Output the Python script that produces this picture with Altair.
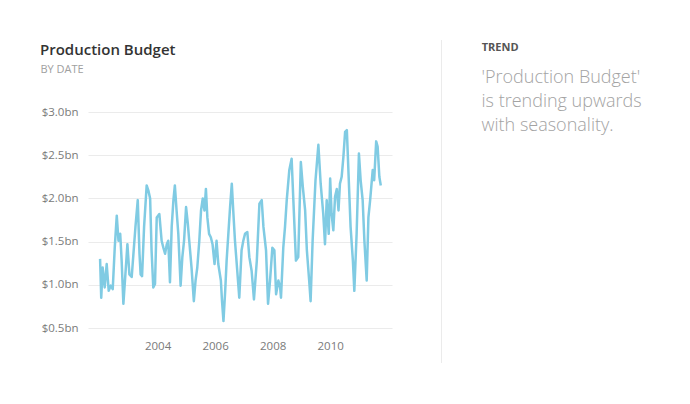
import altair as alt
import pandas as pd

# ---- data ----
years = [
    2002.00, 2002.04, 2002.09, 2002.16, 2002.23, 2002.30, 2002.37, 2002.44, 2002.51, 2002.58,
    2002.64, 2002.70, 2002.75, 2002.81, 2002.88, 2002.95, 2003.02, 2003.10, 2003.16, 2003.23,
    2003.31, 2003.37, 2003.41, 2003.46, 2003.53, 2003.62, 2003.68, 2003.74, 2003.79, 2003.85,
    2003.91, 2003.97, 2004.06, 2004.14, 2004.20, 2004.26, 2004.32, 2004.37, 2004.43, 2004.49,
    2004.55, 2004.60, 2004.66, 2004.72, 2004.80, 2004.86, 2004.92, 2004.99, 2005.05, 2005.10,
    2005.18, 2005.26, 2005.32, 2005.38, 2005.45, 2005.51, 2005.57, 2005.63, 2005.68, 2005.73,
    2005.79, 2005.85, 2005.91, 2005.98, 2006.05, 2006.11, 2006.20, 2006.24, 2006.29, 2006.35,
    2006.40, 2006.46, 2006.52, 2006.58, 2006.63, 2006.69, 2006.77, 2006.84, 2006.92, 2006.98,
    2007.04, 2007.12, 2007.19, 2007.27, 2007.35, 2007.45, 2007.54, 2007.62, 2007.68, 2007.77,
    2007.84, 2007.91, 2007.99, 2008.06, 2008.12, 2008.20, 2008.26, 2008.29, 2008.37, 2008.43,
    2008.49, 2008.58, 2008.66, 2008.72, 2008.77, 2008.81, 2008.89, 2008.98, 2009.05, 2009.13,
    2009.19, 2009.27, 2009.32, 2009.39, 2009.49, 2009.59, 2009.67, 2009.76, 2009.82, 2009.88,
    2009.95, 2010.00, 2010.05, 2010.11, 2010.17, 2010.23, 2010.29, 2010.34, 2010.40, 2010.46,
    2010.52, 2010.58, 2010.63, 2010.71, 2010.79, 2010.84, 2010.92, 2011.00, 2011.06, 2011.13,
    2011.19, 2011.27, 2011.33, 2011.39, 2011.48, 2011.53, 2011.60, 2011.65, 2011.71, 2011.76,
]
budget_bn = [
    1.30, 0.85, 1.20, 0.97, 1.24, 0.93, 0.99, 0.95, 1.43, 1.80,
    1.51, 1.59, 1.28, 0.78, 1.12, 1.47, 1.12, 1.09, 1.36, 1.67,
    1.98, 1.36, 1.12, 1.10, 1.67, 2.15, 2.09, 2.00, 1.40, 0.97,
    1.01, 1.78, 1.82, 1.51, 1.43, 1.36, 1.47, 1.51, 1.03, 1.67,
    1.98, 2.15, 1.86, 1.59, 0.99, 1.32, 1.51, 1.90, 1.71, 1.51,
    1.20, 0.81, 1.05, 1.20, 1.51, 1.86, 2.00, 1.86, 2.11, 1.78,
    1.59, 1.55, 1.47, 1.24, 1.51, 1.24, 1.05, 0.81, 0.58, 0.93,
    1.28, 1.59, 1.90, 2.17, 1.86, 1.51, 1.16, 0.85, 1.40, 1.51,
    1.59, 1.61, 1.32, 1.16, 0.83, 1.28, 1.94, 1.98, 1.67, 1.40,
    0.78, 1.05, 1.43, 1.40, 0.89, 1.05, 0.97, 0.85, 1.43, 1.67,
    1.98, 2.33, 2.46, 1.98, 1.59, 1.28, 1.32, 2.42, 2.13, 1.86,
    1.40, 1.05, 0.81, 1.51, 2.21, 2.62, 2.17, 1.82, 1.47, 1.98,
    1.59, 2.23, 1.82, 1.63, 2.02, 2.11, 1.86, 2.17, 2.25, 2.48,
    2.77, 2.79, 2.36, 1.67, 1.28, 0.93, 1.59, 2.52, 2.21, 1.98,
    1.51, 1.05, 1.78, 1.98, 2.33, 2.21, 2.66, 2.60, 2.25, 2.15,
]
y_ticks = [0.5, 1.0, 1.5, 2.0, 2.5, 3.0]
x_ticks = [2004, 2006, 2008, 2010]
x_domain = [2001.58, 2012.15]
y_domain = [0.5, 3.0]

title_text = "Production Budget"
subtitle_text = "BY DATE"
insight_header = "TREND"
insight_lines = ["'Production Budget'", "is trending upwards", "with seasonality."]

FONT = "Open Sans"
LINE_COLOR = "#80CBE3"

df = pd.DataFrame({"year": years, "budget": budget_bn})

line = alt.Chart(df).mark_line(color=LINE_COLOR, strokeWidth=2.5, strokeJoin="round").encode(
    x=alt.X("year:Q", scale=alt.Scale(domain=x_domain, nice=False, zero=False),
            axis=alt.Axis(values=x_ticks, format="d", title=None, grid=False, domain=False,
                          ticks=False, labelPadding=12, labelFontSize=11.5,
                          labelColor="#7a7a7a", labelFont=FONT)),
    y=alt.Y("budget:Q", scale=alt.Scale(domain=y_domain, nice=False, zero=False),
            axis=alt.Axis(values=y_ticks, title=None, domain=False, ticks=False,
                          labelExpr="'$' + format(datum.value, '.1f') + 'bn'",
                          labelPadding=10, labelFontSize=11.5, labelColor="#7a7a7a",
                          labelFont=FONT, gridColor="#ebebeb", gridWidth=1)),
)

def text_layer(txt, x, y, **kw):
    return alt.Chart(pd.DataFrame({"t": [txt]})).mark_text(
        align="left", baseline="alphabetic", font=FONT, **kw
    ).encode(text="t:N", x=alt.value(x), y=alt.value(y))

title = text_layer(title_text, -48, -57, fontSize=15, fontWeight=600, color="#333333")
subtitle = text_layer(subtitle_text, -47.5, -38.7, fontSize=11, color="#a0a0a0")
header = text_layer(insight_header, 393.7, -61.3, fontSize=11, fontWeight="bold", color="#555555")
insight = text_layer("\n".join(insight_lines), 393.5, -28.7, fontSize=18, fontWeight=300,
                     color="#a3a3a3", lineBreak="\n", lineHeight=24)

divider = alt.Chart(pd.DataFrame({"a": [0]})).mark_rule(color="#ebebeb", strokeWidth=1).encode(
    x=alt.value(353.5), y=alt.value(-72), y2=alt.value(251)
)

chart = alt.layer(line, divider, title, subtitle, header, insight).properties(
    width=304, height=216,
    autosize=alt.AutoSizeParams(type="none"),
    padding={"left": 80, "top": 104, "right": 286, "bottom": 60},
    background="white",
).configure_view(stroke=None)

chart.save("out.html", embed_options={"renderer": "svg", "actions": False})
